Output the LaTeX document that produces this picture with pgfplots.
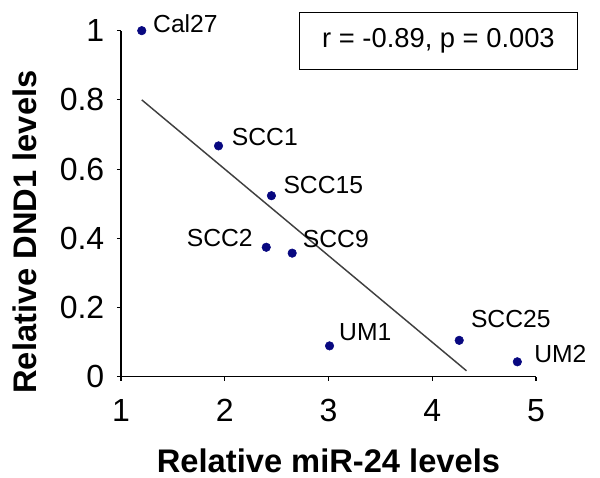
\documentclass[border=0pt]{standalone}
\usepackage{pgfplots}
\pgfplotsset{compat=1.18}
\usepackage{fontspec}
\setmainfont{Liberation Sans}
\definecolor{navy}{RGB}{8,8,128}
\definecolor{fitgray}{RGB}{64,64,64}
\begin{document}
\begin{tikzpicture}
\useasboundingbox (-90.75pt,-76pt) rectangle (359.25pt,282.5pt);
\begin{axis}[
  scale only axis,
  width=311.25pt, height=259.5pt,
  xmin=1, xmax=5, ymin=0, ymax=1,
  axis x line*=bottom, axis y line*=left,
  axis line style={line width=1.1pt, -},
  xtick={1,2,3,4,5}, ytick={0,0.2,0.4,0.6,0.8,1},
  yticklabels={0,0.2,0.4,0.6,0.8,1},
  tick align=outside, major tick length=3pt,
  tick style={line width=0.8pt, black},
  /pgf/number format/assume math mode=true,
  ticklabel style={font=\fontsize{24}{24}\selectfont},
  xticklabel style={anchor=center, yshift=-22.5pt},
  yticklabel style={anchor=east, xshift=-6pt},
  xlabel={\textbf{Relative miR-24 levels}},
  ylabel={\textbf{Relative DND1 levels}},
  label style={font=\fontsize{24.5}{24.5}\selectfont, inner sep=0pt},
  xlabel style={at={(rel axis cs:0.5,0)}, anchor=center, yshift=-63pt},
  ylabel style={at={(axis description cs:-0.231,0.418)}, anchor=center},
  clip=false,
]
\addplot[only marks, mark=*, mark size=3.2pt, color=navy] coordinates {
  (1.20,1.00) (1.94,0.667) (2.45,0.523) (2.40,0.374) (2.65,0.357)
  (3.01,0.089) (4.26,0.105) (4.82,0.043)
};
\addplot[fitgray, line width=1.1pt] coordinates {(1.20,0.80) (4.33,0.017)};
\begin{scope}[every node/.style={font=\fontsize{18.5}{18.5}\selectfont, inner sep=0pt, anchor=west}]
\node at (axis cs:1.308,1.021) {Cal27};
\node at (axis cs:2.067,0.694) {SCC1};
\node at (axis cs:2.564,0.554) {SCC15};
\node[anchor=east] at (axis cs:2.272,0.401) {SCC2};
\node at (axis cs:2.751,0.398) {SCC9};
\node at (axis cs:3.101,0.130) {UM1};
\node at (axis cs:4.371,0.167) {SCC25};
\node at (axis cs:4.981,0.066) {UM2};
\end{scope}
\node[draw, line width=1.1pt, minimum width=208.8pt, minimum height=42.5pt, inner sep=0pt,
  font=\fontsize{20.5}{20.5}\selectfont] at (axis cs:4.06,0.97) {r = -0.89, p = 0.003};
\end{axis}
\end{tikzpicture}
\end{document}
